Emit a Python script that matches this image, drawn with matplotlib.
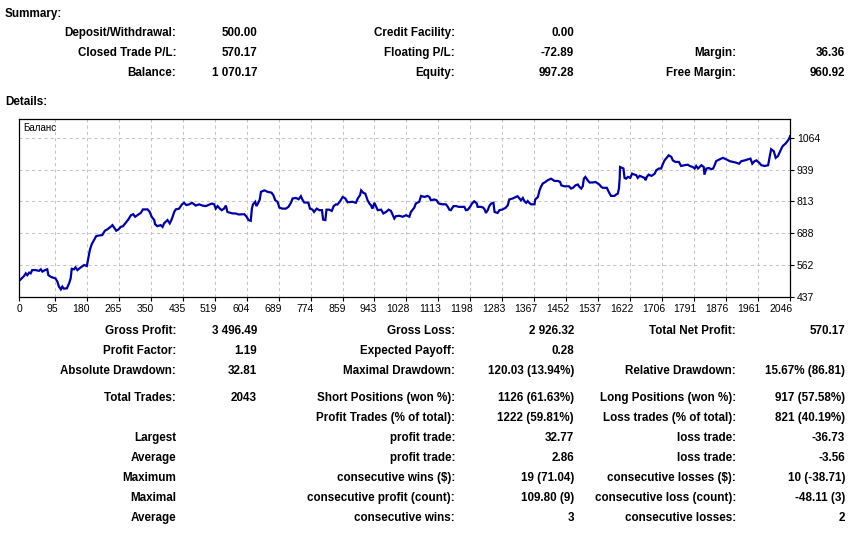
import matplotlib
matplotlib.use("Agg")
import matplotlib.pyplot as plt
import matplotlib.transforms as mtransforms

# ---------------- data ----------------
trade_idx = [0, 7, 13, 18, 22, 27, 31, 35, 44, 53, 58, 62, 69, 75, 78, 84, 89, 97, 102, 106,
             111, 115, 119, 127, 133, 137, 140, 146, 150, 155, 159, 166, 173, 180, 183, 188, 193,
             199, 205, 212, 221, 228, 235, 243, 248, 252, 258, 264, 270, 276, 283, 290,
             297, 303, 308, 314, 323, 329, 341, 347, 352, 359, 361, 367, 376, 381, 385, 394,
             400, 405, 412, 416, 425, 432, 438, 444, 452, 459, 465, 469, 478, 487, 496, 505,
             512, 518, 522, 527, 533, 538, 544, 549, 553, 562, 567, 575, 583,
             598, 604, 609, 615, 618, 621, 627, 630, 634, 639, 642, 651, 660, 670, 675, 680,
             686, 691, 699, 708, 715, 722, 726, 735, 742, 748, 752, 757, 764, 768, 772, 779,
             783, 790, 797, 804, 807, 813, 816, 823, 830, 835, 841, 845, 852, 859, 866, 872,
             885, 894, 899, 905, 908, 914, 919, 925, 930, 934, 938, 943, 947, 952, 961, 967,
             974, 981, 987, 992, 996, 1000, 1009, 1018, 1027, 1036, 1040, 1049, 1053, 1062,
             1067, 1076, 1084, 1089, 1093, 1102, 1108, 1114, 1124, 1133, 1138, 1142, 1146,
             1153, 1160, 1167,
             1182, 1186, 1191, 1197, 1202, 1208, 1215, 1217, 1226, 1232, 1236, 1239, 1244,
             1248, 1253, 1259, 1262, 1270, 1275, 1282, 1291, 1297, 1301, 1310, 1319, 1323,
             1328, 1332, 1337, 1341, 1346, 1350, 1354, 1359, 1368, 1370, 1377, 1381, 1385,
             1390, 1397, 1403, 1412, 1421, 1430, 1436, 1439, 1447, 1459,
             1461, 1465, 1470, 1477, 1483, 1487, 1492, 1496, 1499, 1503, 1509, 1514, 1523,
             1530, 1536, 1540, 1545, 1549, 1560, 1565, 1571, 1580, 1585, 1589, 1592, 1594,
             1595, 1601, 1604, 1607, 1611, 1616, 1622, 1627, 1633, 1638, 1642, 1647, 1654,
             1660, 1663, 1666, 1671, 1678, 1682, 1687, 1691, 1698, 1704, 1709, 1713, 1717,
             1724, 1731, 1735, 1742, 1751,
             1757, 1766, 1775, 1780, 1788, 1793, 1797, 1802, 1811, 1817, 1819, 1824, 1831,
             1837, 1842, 1846, 1850, 1859, 1868, 1877, 1886, 1895, 1903, 1911, 1917, 1926,
             1934, 1941, 1946, 1952, 1957, 1964, 1970, 1979, 1988, 1992, 1996, 2003, 2008,
             2014, 2019, 2023, 2027, 2034, 2041, 2045]
balance = [500, 510, 519, 530, 523, 533, 530, 543, 543, 540, 546, 537, 543, 546, 523, 517, 514, 510, 497, 478,
           467, 478, 470, 471, 491, 510, 548, 546, 554, 543, 548, 556, 563, 559, 582, 622, 645,
           661, 677, 679, 681, 698, 704, 713, 720, 711, 698, 703, 713, 716, 729, 742,
           759, 763, 753, 759, 768, 782, 782, 772, 753, 740, 724, 716, 720, 713, 727, 740,
           727, 742, 772, 782, 785, 801, 808, 799, 802, 808, 802, 797, 802, 797, 795, 801,
           805, 802, 785, 795, 785, 779, 785, 797, 772, 768, 766, 766, 762,
           763, 753, 740, 737, 785, 802, 812, 795, 805, 821, 851, 857, 851, 848, 838, 818,
           812, 789, 785, 785, 792, 809, 825, 827, 822, 834, 821, 809, 809, 808, 785, 781,
           772, 785, 779, 779, 742, 740, 781, 781, 776, 795, 802, 801, 814, 831, 825, 810,
           812, 808, 825, 838, 857, 847, 844, 818, 805, 798, 785, 808, 795, 779, 781, 766,
           772, 781, 776, 759, 746, 755, 757, 753, 759, 753, 772, 789, 805, 812,
           835, 831, 835, 831, 818, 821, 818, 805, 802, 802, 792, 781, 779,
           795, 795, 792,
           792, 779, 781, 792, 805, 814, 805, 792, 792, 789, 781, 768, 779,
           795, 805, 808, 772, 768, 779, 781, 788, 798, 821, 825, 831, 834,
           825, 818, 827, 815, 808, 815, 808, 802, 802, 821, 831, 855, 871,
           884, 890, 897, 903, 894, 894, 890, 877, 873, 873,
           871, 864, 867, 877, 880, 871, 864, 873, 903, 910, 897, 888, 888,
           890, 884, 880, 871, 867, 867, 851, 835, 835, 841, 844, 864, 903,
           949, 945, 943, 906, 903, 910, 906, 923, 919, 917, 906, 914, 910,
           906, 897, 910, 919, 914, 917, 923, 936, 943, 943, 962, 975, 982,
           995, 989, 975, 969, 969,
           953, 956, 958, 953, 949, 943, 953, 943, 956, 949, 919, 943, 945,
           940, 943, 956, 972, 979, 985, 979, 972, 969, 966, 962, 972, 975,
           979, 982, 962, 972, 975, 966, 956, 953, 956, 989, 1019, 1011, 985,
           992, 1008, 1021, 1032, 1041, 1054, 1065]
trade_idx.append(2046)
balance.append(1070.17)

x_tick_labels = ["0", "95", "180", "265", "350", "435", "519", "604", "689", "774", "859", "943",
                 "1028", "1113", "1198", "1283", "1367", "1452", "1537", "1622", "1706", "1791",
                 "1876", "1961", "2046"]
y_tick_values = [437, 562.4, 687.8, 813.2, 938.6, 1064]
y_tick_labels = ["437", "562", "688", "813", "939", "1064"]
series_name = "Баланс"

summary_rows = [
    ["Deposit/Withdrawal:", "500.00", "Credit Facility:", "0.00", "", ""],
    ["Closed Trade P/L:", "570.17", "Floating P/L:", "-72.89", "Margin:", "36.36"],
    ["Balance:", "1 070.17", "Equity:", "997.28", "Free Margin:", "960.92"],
]
details_rows = [
    ["Gross Profit:", "3 496.49", "Gross Loss:", "2 926.32", "Total Net Profit:", "570.17"],
    ["Profit Factor:", "1.19", "Expected Payoff:", "0.28", "", ""],
    ["Absolute Drawdown:", "32.81", "Maximal Drawdown:", "120.03 (13.94%)", "Relative Drawdown:", "15.67% (86.81)"],
    ["Total Trades:", "2043", "Short Positions (won %):", "1126 (61.63%)", "Long Positions (won %):", "917 (57.58%)"],
    ["", "", "Profit Trades (% of total):", "1222 (59.81%)", "Loss trades (% of total):", "821 (40.19%)"],
    ["Largest", "", "profit trade:", "32.77", "loss trade:", "-36.73"],
    ["Average", "", "profit trade:", "2.86", "loss trade:", "-3.56"],
    ["Maximum", "", "consecutive wins ($):", "19 (71.04)", "consecutive losses ($):", "10 (-38.71)"],
    ["Maximal", "", "consecutive profit (count):", "109.80 (9)", "consecutive loss (count):", "-48.11 (3)"],
    ["Average", "", "consecutive wins:", "3", "consecutive losses:", "2"],
]

# ---------------- layout ----------------
W, H = 860, 534
fig = plt.figure(figsize=(W / 100, H / 100), dpi=100)
fig.patch.set_facecolor("white")

FONT = "Liberation Sans"
TXT = dict(family=FONT, fontsize=8.4, fontweight="bold", color="black", va="center")


def px(x, y):
    return x / W, 1 - y / H


fig.text(*px(5, 14), "Summary:", ha="left", **TXT)
fig.text(*px(5, 102), "Details:", ha="left", **TXT)

col_right = [176, 257, 455, 574, 736, 845]
summary_y = [33, 53, 73]
details_y = [331, 351, 371, 398, 418, 438, 458, 478, 498, 518]

for rows, ys in ((summary_rows, summary_y), (details_rows, details_y)):
    for row, y in zip(rows, ys):
        for cell, xr in zip(row, col_right):
            if cell:
                fig.text(*px(xr, y), cell, ha="right", **TXT)

# chart
left, right, top, bottom = 19, 790, 119, 297
ax = fig.add_axes([left / W, 1 - bottom / H, (right - left) / W, (bottom - top) / H])
ax.plot(trade_idx, balance, color="#0000AA", linewidth=1.6, solid_joinstyle="miter")
ax.set_xlim(0, 2046)
ax.set_ylim(437, 1138)

x_pos = [int(s) for s in x_tick_labels]
ax.set_xticks(x_pos)
ax.set_xticklabels(x_tick_labels)
ax.set_yticks(y_tick_values)
ax.set_yticklabels(y_tick_labels)
ax.yaxis.tick_right()
ax.tick_params(axis="both", direction="out", length=3, width=0.8, color="black",
               labelsize=7.5, labelcolor="black", pad=2)
for lab in ax.get_xticklabels() + ax.get_yticklabels():
    lab.set_family(FONT)
offset = mtransforms.ScaledTranslation(3 / 100, 0, fig.dpi_scale_trans)
for lab in ax.get_xticklabels():
    lab.set_horizontalalignment("right")
    lab.set_transform(lab.get_transform() + offset)

ax.grid(True, color="#C4C4C4", linestyle=(0, (3, 3)), linewidth=0.75)
ax.set_axisbelow(True)
for sp in ax.spines.values():
    sp.set_color("black")
    sp.set_linewidth(0.9)

ax.text(0.005, 0.95, series_name, transform=ax.transAxes, family=FONT, fontsize=7,
        ha="left", va="center", color="black")

fig.savefig("out.png", dpi=100, facecolor="white")
